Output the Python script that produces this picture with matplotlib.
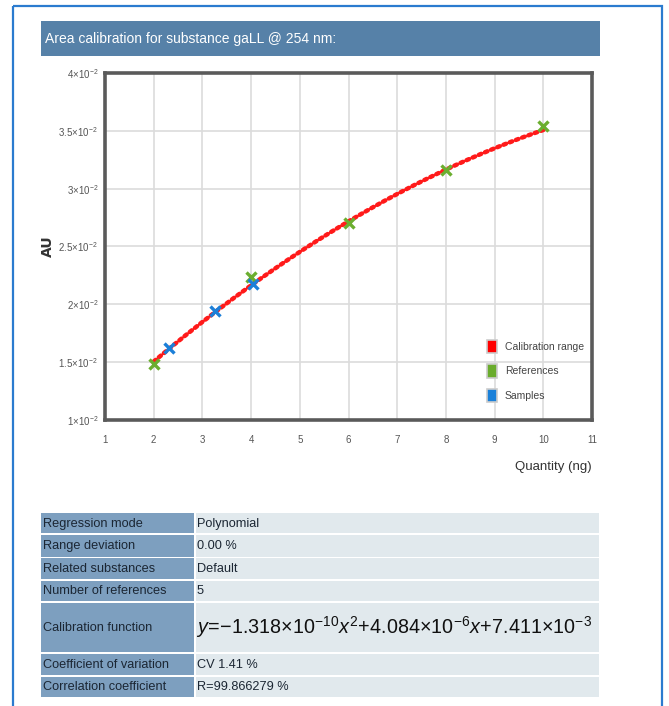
import numpy as np
import matplotlib
matplotlib.use("Agg")
import matplotlib.pyplot as plt
from matplotlib.patches import Rectangle, Patch
from matplotlib.ticker import FixedLocator, FixedFormatter

plt.rcParams['font.family'] = ['DejaVu Sans']
plt.rcParams['mathtext.rm'] = 'Liberation Sans'
plt.rcParams['mathtext.it'] = 'Liberation Sans:italic'
plt.rcParams['mathtext.bf'] = 'Liberation Sans:bold'

# ---- data ----
coef_a, coef_b, coef_c = -1.318e-10, 4.084e-6, 7.411e-3   # y = a x^2 + b x + c, x in pg
cal_range = [2, 10]                                         # ng
ref_x = [2, 4, 6, 8, 10]
ref_y = [0.01485, 0.02239, 0.02700, 0.03158, 0.03540]
smp_x = [2.32, 3.26, 4.03]
smp_y = [0.01621, 0.01939, 0.02176]

x_ticks = [1, 2, 3, 4, 5, 6, 7, 8, 9, 10, 11]
y_ticks = [0.010, 0.015, 0.020, 0.025, 0.030, 0.035, 0.040]
y_tick_labels = [r'$1{\times}10^{-2}$', r'$1.5{\times}10^{-2}$', r'$2{\times}10^{-2}$',
                 r'$2.5{\times}10^{-2}$', r'$3{\times}10^{-2}$', r'$3.5{\times}10^{-2}$',
                 r'$4{\times}10^{-2}$']

title = "Area calibration for substance gaLL @ 254 nm:"
row_labels = ["Regression mode", "Range deviation", "Related substances",
              "Number of references", "Calibration function",
              "Coefficient of variation", "Correlation coefficient"]
row_values = ["Polynomial", "0.00 %", "Default", "5",
              r'$y\!=\!{-}1.318{\times}10^{-10}x^2\!+\!4.084{\times}10^{-6}x\!+\!7.411{\times}10^{-3}$',
              "CV 1.41 %", "R=99.866279 %"]
row_bounds = [(513, 533), (534.5, 556.5), (558, 579), (580.5, 601),
              (603, 652), (654, 675), (677, 697)]

SANS = ['Liberation Sans', 'DejaVu Sans']

W, H = 669, 706
fig = plt.figure(figsize=(W / 100, H / 100), dpi=100)
fig.patch.set_facecolor('white')

# page overlay in pixel coordinates
bg = fig.add_axes([0, 0, 1, 1], zorder=0)
bg.set_xlim(0, W)
bg.set_ylim(H, 0)
bg.axis('off')

bg.add_patch(Rectangle((13, 6), 649, 710, fill=False, edgecolor='#2b7bcf', lw=1.6))
bg.add_patch(Rectangle((41, 21), 559, 35, facecolor='#5681a8', edgecolor='none'))
bg.text(45, 39, title, color='white', fontsize=10.0, va='center', ha='left', family=SANS)

label_x0, label_x1, value_x1 = 41, 194, 599
for (top, bot), lab, val in zip(row_bounds, row_labels, row_values):
    bg.add_patch(Rectangle((label_x0, top), label_x1 - label_x0, bot - top,
                           facecolor='#7d9fbf', edgecolor='none'))
    bg.add_patch(Rectangle((label_x1 + 1.5, top), value_x1 - label_x1 - 1.5, bot - top,
                           facecolor='#e1e9ed', edgecolor='none'))
    ym = (top + bot) / 2
    bg.text(43, ym + 0.5, lab, fontsize=9.2, va='center', ha='left', color='#1b2633',
            family=SANS)
    if val.startswith('$'):
        bg.text(196, ym, val, fontsize=14.2, va='center', ha='left', color='#111111',
                math_fontfamily='custom')
    else:
        bg.text(197, ym + 0.5, val, fontsize=9.2, va='center', ha='left', color='#1b2633',
                family=SANS)

# ---- calibration chart ----
left, right, top, bottom = 105, 592, 73, 420
ax = fig.add_axes([left / W, 1 - bottom / H, (right - left) / W, (bottom - top) / H], zorder=2)
ax.set_xlim(1, 11)
ax.set_ylim(0.010, 0.040)
ax.xaxis.set_major_locator(FixedLocator(x_ticks))
ax.yaxis.set_major_locator(FixedLocator(y_ticks))
ax.yaxis.set_major_formatter(FixedFormatter(y_tick_labels))
ax.tick_params(length=0, labelsize=7, labelcolor='#555555')
ax.tick_params(axis='x', pad=11)
ax.tick_params(axis='y', pad=5)
for lbl in ax.get_yticklabels() + ax.get_xticklabels():
    lbl.set_math_fontfamily('custom')
    lbl.set_family(SANS)
ax.grid(True, color='#dcdcdc', lw=1.2)
ax.set_axisbelow(True)
for sp in ax.spines.values():
    sp.set_color('#5a5a5a')
    sp.set_linewidth(2.6)

xc = np.linspace(cal_range[0], cal_range[1], 200)
xp = xc * 1000.0
yc = coef_a * xp ** 2 + coef_b * xp + coef_c
ax.plot(xc, yc, color='#ff1a1a', lw=3.2, linestyle=(0, (0.6, 0.9)),
        dash_capstyle='round', zorder=3)
ax.plot(ref_x, ref_y, linestyle='none', marker='x', ms=7.5, mew=2.4,
        color='#6bae2f', zorder=4)
ax.plot(smp_x, smp_y, linestyle='none', marker='x', ms=7.5, mew=2.4,
        color='#1b7fd8', zorder=5)

ax.set_ylabel('AU', fontsize=10, fontweight='bold', color='#333333')
ax.yaxis.set_label_coords(-0.102, 0.5)
ax.text(1.0, -0.135, 'Quantity (ng)', transform=ax.transAxes, ha='right', va='center',
        fontsize=9.5, color='#333333', family=SANS)

handles = [Patch(facecolor='#ff0000', edgecolor='#cccccc', lw=1.2, label='Calibration range'),
           Patch(facecolor='#6aac2c', edgecolor='#cccccc', lw=1.2, label='References'),
           Patch(facecolor='#1a80d9', edgecolor='#cccccc', lw=1.2, label='Samples')]
leg = ax.legend(handles=handles, loc='center left', bbox_to_anchor=(0.765, 0.141),
                frameon=False, handlelength=1.0, handleheight=1.6, handletextpad=0.7,
                labelspacing=1.05, prop={'family': SANS, 'size': 7.5})
for t in leg.get_texts():
    t.set_color('#444444')

fig.savefig('out.png', dpi=100)
